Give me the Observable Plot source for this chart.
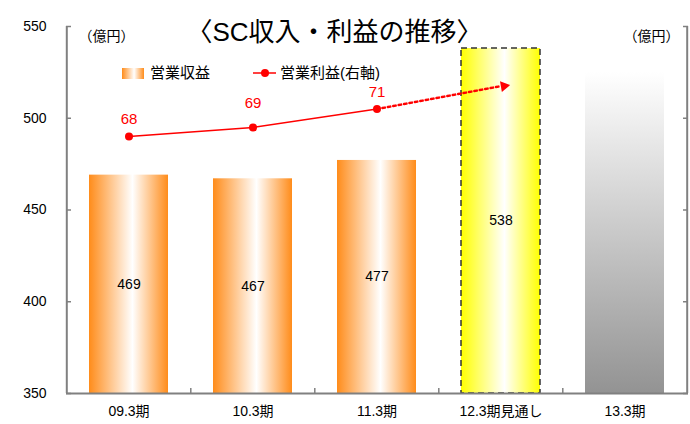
<!DOCTYPE html>
<html><head><meta charset="utf-8">
<script src="https://cdn.jsdelivr.net/npm/d3@7"></script>
<script src="https://cdn.jsdelivr.net/npm/@observablehq/plot@0.6"></script>
<style>
html,body{margin:0;padding:0;background:#fff;}
svg{font-family:"Liberation Sans","Noto Sans CJK JP",sans-serif;}
</style></head>
<body><div id="chart"></div>
<script>
const categories = ["09.3期","10.3期","11.3期","12.3期見通し","13.3期"];
const actualCats = ["09.3期","10.3期","11.3期"];
const actualRevenue = [469, 467, 477];
const forecastCat = "12.3期見通し";
const forecastRevenue = 538;
const futureCat = "13.3期";
const futureBarTop = 525;        // faded placeholder column, no label
const profitCats = ["09.3期","10.3期","11.3期"];
const profit = [68, 69, 71];
const arrowCats = ["11.3期","12.3期見通し"];
const arrowProfit = [71, 73.5];
const leftTicks = [350, 400, 450, 500, 550];
const leftDomain = [350, 550];
const rightDomain = [40, 80];
const title = "〈SC収入・利益の推移〉";
const unitLabel = "（億円）";
const legendRevenue = "営業収益";
const legendProfit = "営業利益(右軸)";

const W = 690, H = 424, mL = 66, mR = 2, mT = 26, mB = 31;
const frameW = W - mL - mR, frameH = H - mT - mB;
const step = frameW / categories.length;
const toLeft = d3.scaleLinear(rightDomain, leftDomain);
const base = leftDomain[0];

const actual = actualCats.map((c, i) => ({c, v: actualRevenue[i]}));
const forecast = [{c: forecastCat, v: forecastRevenue}];
const future = [{c: futureCat, v: futureBarTop}];
const labels = actual.concat(forecast);
const prof = profitCats.map((c, i) => ({c, v: profit[i], i}));
const arrow = arrowCats.map((c, i) => ({c, v: arrowProfit[i]}));
const axisColor = "#808080";
const red = "#ff0000";

const plot = Plot.plot({
  width: W, height: H,
  marginLeft: mL, marginRight: mR, marginTop: mT, marginBottom: mB,
  style: {fontFamily: '"Liberation Sans","Noto Sans CJK JP",sans-serif', fontSize: "14px", color: "#000", background: "#fff"},
  x: {domain: categories, paddingInner: 0.36, paddingOuter: 0.18, axis: null},
  y: {domain: leftDomain, axis: null},
  marks: [
    Plot.barY(actual, {x: "c", y1: base, y2: "v", fill: "url(#gOrange)"}),
    Plot.barY(forecast, {x: "c", y1: base, y2: "v", fill: "url(#gYellow)", stroke: "#333", strokeWidth: 1.5, strokeDasharray: "6,4"}),
    Plot.barY(future, {x: "c", y1: base, y2: "v", fill: "url(#gGray)"}),
    Plot.text(labels, {x: "c", y: d => (base + d.v) / 2, text: d => String(d.v), fontSize: 14, fill: "#000"}),
    // axes lines
    Plot.ruleY([base], {stroke: axisColor, strokeWidth: 2}),
    Plot.ruleX([categories[0]], {dx: -step / 2, stroke: axisColor, strokeWidth: 2}),
    Plot.ruleX([categories[categories.length - 1]], {dx: step / 2, stroke: axisColor, strokeWidth: 2}),
    Plot.tickY(leftTicks, {y: d => d, insetRight: frameW - 5, stroke: axisColor, strokeWidth: 1.5}),
    Plot.tickY(leftTicks, {y: d => d, insetLeft: frameW - 5, stroke: axisColor, strokeWidth: 1.5}),
    Plot.tickX(categories.slice(1), {x: d => d, dx: -step / 2, insetTop: frameH - 5, stroke: axisColor, strokeWidth: 1.5}),
    Plot.axisY({anchor: "left", ticks: leftTicks, tickSize: 0, tickPadding: 20, fontSize: 14, label: null}),
    Plot.axisX({anchor: "bottom", tickSize: 0, tickPadding: 13, fontSize: 14, label: null}),
    // profit line
    Plot.line(arrow, {x: "c", y: d => toLeft(d.v), stroke: red, strokeWidth: 2.5, strokeDasharray: "2.5,3"}),
    Plot.dot(arrow.slice(1), {x: "c", y: d => toLeft(d.v), dx: 3, symbol: "triangle", r: 4, fill: red, rotate: 80}),
    Plot.line(prof, {x: "c", y: d => toLeft(d.v), stroke: red, strokeWidth: 1.5}),
    Plot.dot(prof, {x: "c", y: d => toLeft(d.v), r: 4, fill: red}),
    Plot.text(prof.filter(d => d.i !== 1), {x: "c", y: d => toLeft(d.v), text: d => String(d.v), dy: -17, fill: red, fontSize: 15}),
    Plot.text(prof.filter(d => d.i === 1), {x: "c", y: d => toLeft(d.v), text: d => String(d.v), dy: -24, fill: red, fontSize: 15}),
    // title and units
    Plot.text([title], {frameAnchor: "top", dx: 334 - (mL + frameW / 2), dy: -4, fontSize: 26, fill: "#000", letterSpacing: 3.5}),
    Plot.text([unitLabel], {frameAnchor: "top-left", dx: 40, dy: 5, fontSize: 14, fill: "#000", textAnchor: "middle"}),
    Plot.text([unitLabel], {frameAnchor: "top-right", dx: -37, dy: 5, fontSize: 14, fill: "#000", textAnchor: "middle"})
  ]
});

const svg = d3.select(plot);
const defs = svg.insert("defs", ":first-child");
function hGrad(id, c) {
  const g = defs.append("linearGradient").attr("id", id).attr("x1", 0).attr("x2", 1).attr("y1", 0).attr("y2", 0);
  g.append("stop").attr("offset", "0%").attr("stop-color", c);
  g.append("stop").attr("offset", "55%").attr("stop-color", "#fff");
  g.append("stop").attr("offset", "100%").attr("stop-color", c);
}
hGrad("gOrange", "#ff8c1a");
hGrad("gYellow", "#ffff00");
const gg = defs.append("linearGradient").attr("id", "gGray").attr("x1", 0).attr("x2", 0).attr("y1", 0).attr("y2", 1);
gg.append("stop").attr("offset", "0%").attr("stop-color", "#ffffff");
gg.append("stop").attr("offset", "100%").attr("stop-color", "#939393");

// legend
const lg = svg.append("g").attr("text-anchor", "start");
lg.append("rect").attr("x", 122).attr("y", 68).attr("width", 22).attr("height", 11).attr("fill", "url(#gOrange)");
lg.append("text").attr("x", 150).attr("y", 73).attr("dy", "0.36em").attr("font-size", 15).text(legendRevenue);
lg.append("line").attr("x1", 253).attr("x2", 276).attr("y1", 73).attr("y2", 73).attr("stroke", red).attr("stroke-width", 1.5);
lg.append("circle").attr("cx", 265).attr("cy", 73).attr("r", 4).attr("fill", red);
lg.append("text").attr("x", 280).attr("y", 73).attr("dy", "0.36em").attr("font-size", 15).text(legendProfit);

document.getElementById("chart").appendChild(plot);
</script></body></html>
